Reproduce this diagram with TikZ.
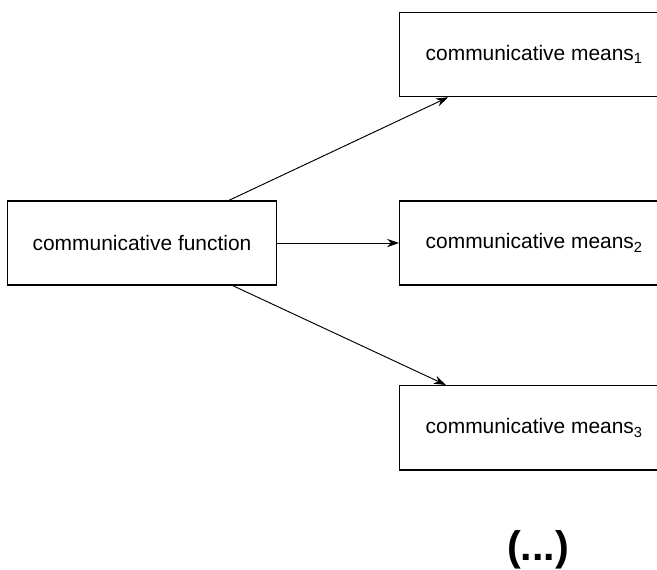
\documentclass[tikz,border=0pt]{standalone}
\usepackage{fontspec}
\setmainfont{Liberation Sans}
\usetikzlibrary{positioning, arrows.meta}

\begin{document}
\begin{tikzpicture}
    [
        node distance=49.2mm and 103.4mm, on grid,
        box_node/.style={rectangle, draw=black!100, fill=white, line width=0.35mm, minimum width=70.9mm, minimum height=22.2mm, font=\fontsize{15.7}{19}\selectfont},
        arrow_line/.style={-{Stealth[length=3.2mm, width=2.2mm]}, line width=0.25mm, color=black},
    ]
        \clip (0,0) rectangle (492.75pt,-426.75pt) ;
        \node[box_node] (func) at (106.5pt,-182.25pt) {communicative function} ;
        \node[box_node] (means2) [right = of func] {communicative means\textsubscript{2}} ;
        \node[box_node] (means1) [above = 49.7mm of means2] {communicative means\textsubscript{1}} ;
        \node[box_node] (means3) [below = 48.7mm of means2] {communicative means\textsubscript{3}} ;
        \node[font=\bfseries\fontsize{31}{36}\selectfont] (more) [below = 32.3mm of means3, xshift=1mm] {(...)} ;
        \draw[arrow_line] ([xshift=23mm]func.north) -- ([xshift=-22.7mm]means1.south) ;
        \draw[arrow_line] (func.east) -- (means2.west) ;
        \draw[arrow_line] ([xshift=24mm]func.south) -- ([xshift=-23.3mm]means3.north) ;
    \end{tikzpicture}
\end{document}
